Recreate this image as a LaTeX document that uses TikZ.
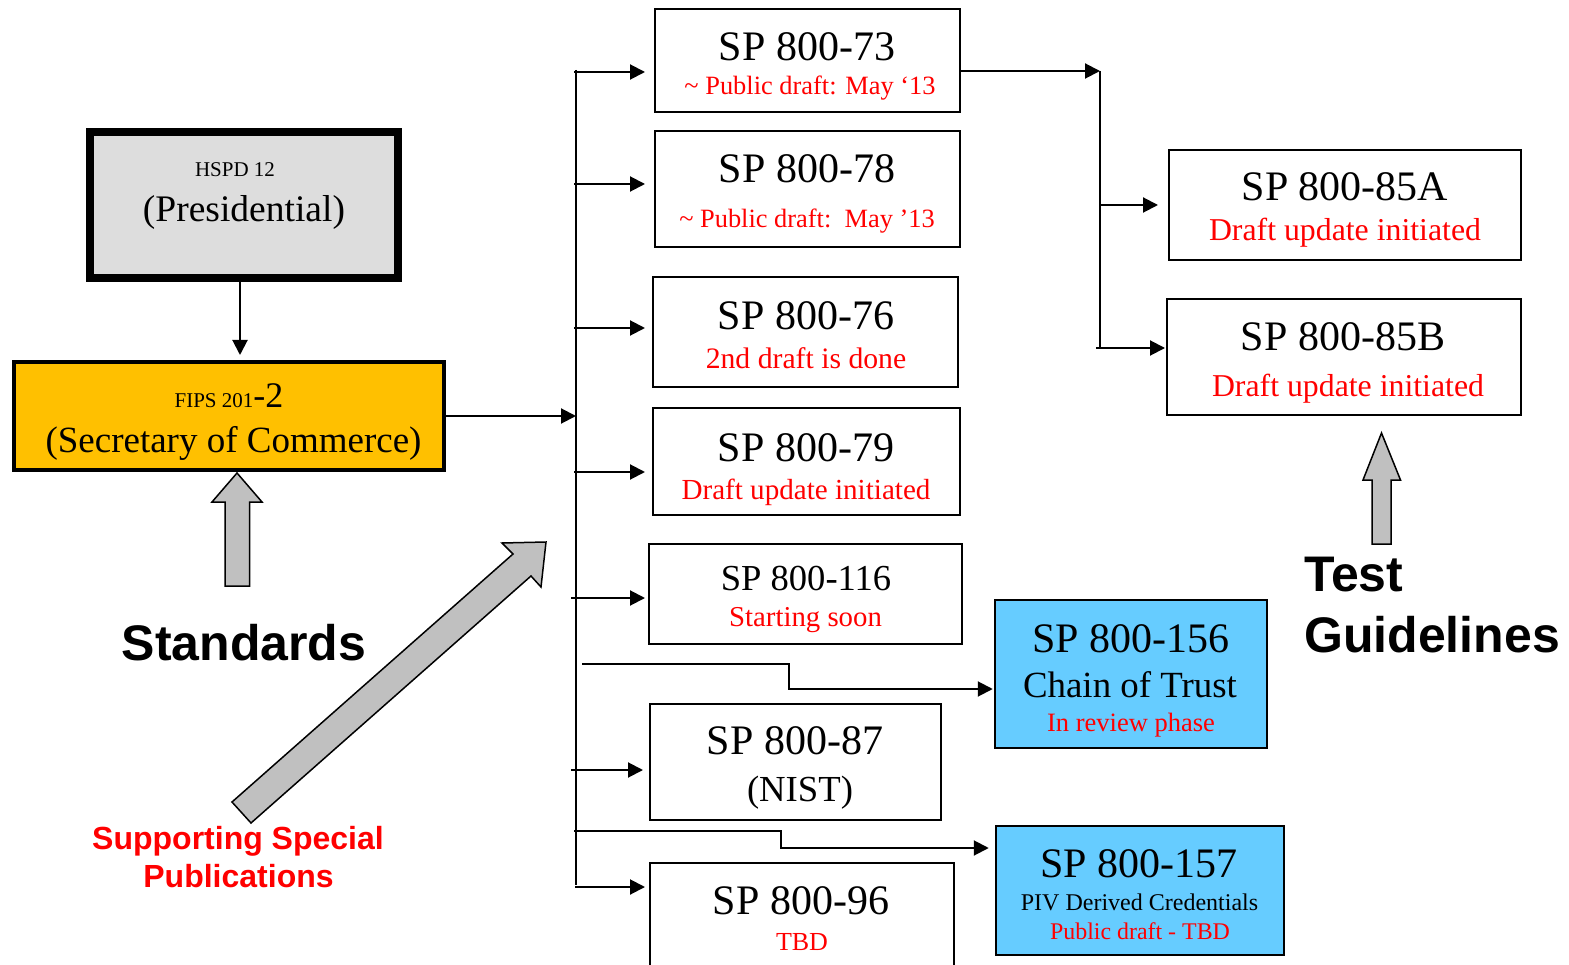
\documentclass[tikz,border=0pt]{standalone}
\usepackage{fontspec}
\setmainfont{Liberation Serif}
\newfontfamily\lsans{Liberation Sans}
\usetikzlibrary{arrows.meta,calc}
\definecolor{hgray}{HTML}{DDDDDD}
\definecolor{fipsy}{HTML}{FFC000}
\definecolor{skyb}{HTML}{66CCFF}
\definecolor{agray}{HTML}{C0C0C0}
\newcommand{\myfs}[1]{\fontsize{#1}{#1}\selectfont}
\begin{document}
\begin{tikzpicture}[x=1pt,y=-1pt,
 box/.style={draw=black, line width=2pt, fill=white, inner sep=0pt},
 bluebox/.style={box, fill=skyb, line width=2.5pt},
 tx/.style={inner sep=0pt, anchor=base},
 ttl/.style={tx, font=\myfs{42}},
 rd/.style={tx, text=red},
 arr/.style={line width=2pt, -{Triangle[length=15pt,width=15pt]}},
 ln/.style={line width=2pt},
 blk/.style={draw=black, line width=1.5pt, fill=agray, line join=miter},
 lab/.style={inner sep=0pt, anchor=base, font=\lsans\bfseries\myfs{50}}]
\useasboundingbox (0,0) rectangle (1569,965);

% left boxes
\node[box, line width=8pt, fill=hgray, minimum width=308pt, minimum height=146pt] (hspd) at (244,205) {};
\node[tx, font=\myfs{21}] (hspdA) at (235,177) {HSPD 12};
\node[tx, font=\myfs{37.5}] (hspdB) at (244,222) {(Presidential)};

\node[box, line width=4pt, fill=fipsy, minimum width=430pt, minimum height=108pt] (fips) at (229,416) {};
\node[tx] (fipsA) at (229,407) {{\myfs{21}FIPS 201}{\myfs{36}-2}};
\node[tx, font=\myfs{37}] (fipsB) at (233.5,452) {(Secretary of Commerce)};

% middle column
\node[box, minimum width=305pt, minimum height=103pt] (s73) at (807.5,60.5) {};
\node[ttl] (s73t) at (807,61) {SP 800-73};
\node[rd, font=\myfs{26.4}] (s73s) at (810,95) {\textasciitilde{} Public draft: May ‘13};

\node[box, minimum width=305pt, minimum height=116pt] (s78) at (807.5,189) {};
\node[ttl] (s78t) at (807,183) {SP 800-78};
\node[rd, font=\myfs{26.4}] (s78s) at (807,228) {\textasciitilde{} Public draft:\ \ May ’13};

\node[box, minimum width=305pt, minimum height=110pt] (s76) at (805.5,332) {};
\node[ttl] (s76t) at (806,330) {SP 800-76};
\node[rd, font=\myfs{29.7}] (s76s) at (806,369) {2nd draft is done};

\node[box, minimum width=307pt, minimum height=107pt] (s79) at (806.5,461.5) {};
\node[ttl] (s79t) at (806,461) {SP 800-79};
\node[rd, font=\myfs{29.1}] (s79s) at (806,499) {Draft update initiated};

\node[box, minimum width=313pt, minimum height=100pt] (s116) at (805.5,594) {};
\node[tx, font=\myfs{36.6}] (s116t) at (806,590) {SP 800-116};
\node[rd, font=\myfs{28.8}] (s116s) at (805.5,626) {Starting soon};

\node[box, minimum width=291pt, minimum height=116pt] (s87) at (795.5,762) {};
\node[ttl] (s87t) at (795,754) {SP 800-87};
\node[tx, font=\myfs{36.7}] (s87s) at (800,801) {(NIST)};

\node[box, minimum width=304pt, minimum height=112pt] (s96) at (802,919) {};
\node[ttl] (s96t) at (801,914) {SP 800-96};
\node[rd, font=\myfs{26}] (s96s) at (802,950) {TBD};

% right column
\node[box, minimum width=352pt, minimum height=110pt] (s85a) at (1345,205) {};
\node[ttl] (s85at) at (1345,201) {SP 800-85A};
\node[rd, font=\myfs{31.8}] (s85as) at (1345,241) {Draft update initiated};

\node[box, minimum width=354pt, minimum height=116pt] (s85b) at (1344,357) {};
\node[ttl] (s85bt) at (1343,351) {SP 800-85B};
\node[rd, font=\myfs{31.8}] (s85bs) at (1348,396) {Draft update initiated};

\node[bluebox, minimum width=272pt, minimum height=148pt] (s156) at (1131,674) {};
\node[ttl] (s156t) at (1131,652) {SP 800-156};
\node[tx, font=\myfs{36.9}] (s156c) at (1130,697) {Chain of Trust};
\node[rd, font=\myfs{26.5}] (s156s) at (1131,731) {In review phase};

\node[bluebox, minimum width=288pt, minimum height=129pt] (s157) at (1140,890.5) {};
\node[ttl] (s157t) at (1139,877) {SP 800-157};
\node[tx, font=\myfs{24}] (s157c) at (1139.5,910) {PIV Derived Credentials};
\node[rd, font=\myfs{23.9}] (s157s) at (1140,939) {Public draft - TBD};

% connectors
\coordinate (hx) at (240,0);
\draw[arr, shorten >=5pt] (hspd.south -| hx) -- (fips.north -| hx);

\coordinate (busT) at (576,70);
\coordinate (busB) at (576,885);
\draw[ln] (busT) -- (busB);
\draw[arr] (fips.east) -- (fips.east -| busT);

\coordinate (b1) at (574,72);
\coordinate (b2) at (574,184);
\coordinate (b3) at (574,328);
\coordinate (b4) at (574,472);
\coordinate (b5) at (571,598);
\coordinate (b6) at (571,770);
\coordinate (b7) at (575,887);
\draw[arr, shorten >=9pt] (b1) -- (b1 -| s73.west);
\draw[arr, shorten >=9pt] (b2) -- (b2 -| s78.west);
\draw[arr, shorten >=7pt] (b3) -- (b3 -| s76.west);
\draw[arr, shorten >=7pt] (b4) -- (b4 -| s79.west);
\draw[arr, shorten >=3pt] (b5) -- (b5 -| s116.west);
\draw[arr, shorten >=6pt] (b6) -- (b6 -| s87.west);
\draw[arr, shorten >=4pt] (b7) -- (b7 -| s96.west);

\coordinate (e1) at (582,664);
\coordinate (e1b) at (789,689);
\draw[arr, shorten >=1pt] (e1) -| (e1b) -- (e1b -| s156.west);
\coordinate (e2) at (574,831);
\coordinate (e2b) at (781,848);
\draw[arr, shorten >=6pt] (e2) -| (e2b) -- (e2b -| s157.west);

\coordinate (j) at (1100,71);
\coordinate (jA) at (1100,205);
\coordinate (jB) at (1100,348);
\coordinate (jB0) at (1096,348);
\draw[arr] (s73.east |- j) -- (j);
\draw[ln] (j) -- (jB);
\draw[arr, shorten >=10pt] (jA) -- (jA -| s85a.west);
\draw[arr, shorten >=1pt] (jB0) -- (jB0 -| s85b.west);

% block arrows
\draw[blk] (225,586) -- (225,502) -- (212,502) -- (237,473) -- (262,502) -- (249.5,502) -- (249.5,586) -- cycle;
\draw[blk] (1372,544) -- (1372,480) -- (1363,480) -- (1381.5,433) -- (1400.5,480) -- (1391,480) -- (1391,544) -- cycle;
\draw[blk] (232,802) -- (513,554) -- (502,543) -- (546,542) -- (541,587) -- (531,576) -- (251,823) -- cycle;

% labels
\node[lab] (std) at (244,660) {Standards};
\node[lab, font=\lsans\bfseries\myfs{32}, text=red] (sup1) at (238,849) {Supporting Special};
\node[lab, font=\lsans\bfseries\myfs{32}, text=red] (sup2) at (238.5,887) {Publications};
\node[lab, anchor=base west] (tst) at (1304,591) {Test};
\node[lab, anchor=base west] (gdl) at (1304,652) {Guidelines};
\end{tikzpicture}
\end{document}
